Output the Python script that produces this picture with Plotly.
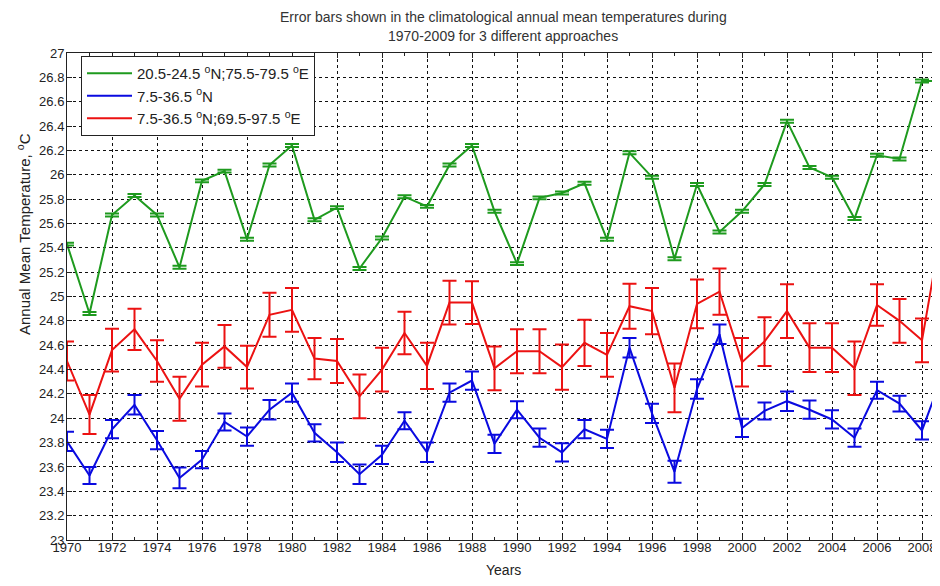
import plotly.graph_objects as go

years = list(range(1970, 2010))

green_vals = [25.43, 24.86, 25.67, 25.83, 25.67, 25.24, 25.95, 26.03, 25.47, 26.08,
              26.24, 25.63, 25.73, 25.23, 25.48, 25.82, 25.74, 26.08, 26.24, 25.70,
              25.27, 25.81, 25.85, 25.93, 25.47, 26.18, 25.98, 25.31, 25.92, 25.53,
              25.70, 25.92, 26.44, 26.06, 25.98, 25.64, 26.16, 26.13, 26.77, 26.77]
green_err = [0.012] * 40

blue_vals = [23.81, 23.53, 23.91, 24.11, 23.82, 23.51, 23.66, 23.97, 23.85, 24.07,
             24.21, 23.88, 23.72, 23.54, 23.70, 23.98, 23.72, 24.21, 24.31, 23.79,
             24.07, 23.84, 23.72, 23.91, 23.83, 24.58, 24.04, 23.56, 24.24, 24.69,
             23.92, 24.06, 24.14, 24.07, 23.99, 23.84, 24.23, 24.12, 23.90, 24.40]
blue_err = [0.08, 0.07, 0.075, 0.08, 0.075, 0.085, 0.07, 0.07, 0.075, 0.08,
            0.075, 0.07, 0.08, 0.08, 0.075, 0.07, 0.08, 0.075, 0.075, 0.075,
            0.07, 0.075, 0.075, 0.075, 0.075, 0.08, 0.08, 0.09, 0.08, 0.08,
            0.075, 0.07, 0.08, 0.075, 0.075, 0.075, 0.07, 0.065, 0.075, 0.075]

red_vals = [24.47, 24.03, 24.56, 24.73, 24.47, 24.16, 24.44, 24.59, 24.42, 24.85,
            24.89, 24.49, 24.47, 24.18, 24.40, 24.70, 24.43, 24.95, 24.95, 24.41,
            24.55, 24.55, 24.42, 24.62, 24.52, 24.92, 24.88, 24.25, 24.94, 25.04,
            24.46, 24.63, 24.88, 24.58, 24.58, 24.41, 24.93, 24.80, 24.64, 25.70]
red_err = [0.16, 0.16, 0.175, 0.17, 0.17, 0.18, 0.18, 0.175, 0.175, 0.18,
           0.18, 0.17, 0.18, 0.18, 0.18, 0.175, 0.19, 0.18, 0.175, 0.18,
           0.18, 0.18, 0.185, 0.19, 0.18, 0.185, 0.19, 0.2, 0.2, 0.19,
           0.2, 0.2, 0.22, 0.2, 0.2, 0.22, 0.17, 0.18, 0.18, 0.18]

series_names = ["20.5-24.5 <sup>o</sup>N;75.5-79.5 <sup>o</sup>E",
                "7.5-36.5 <sup>o</sup>N",
                "7.5-36.5 <sup>o</sup>N;69.5-97.5 <sup>o</sup>E"]
series_colors = ["#1e9a1e", "#0a0ae0", "#ec1212"]

x_tickvals = list(range(1970, 2009, 2))
x_ticktext = [str(v) for v in x_tickvals]
y_tickvals = [round(23 + 0.2 * i, 1) for i in range(21)]
y_ticktext = [("%g" % v) for v in y_tickvals]

title_lines = ["Error bars shown in the climatological annual mean temperatures during",
               "1970-2009 for 3 different approaches"]
x_title = "Years"
y_title = "Annual Mean Temperature, <sup>o</sup>C"

FONT = "Liberation Sans, Arial, sans-serif"
TXT = "#222222"

fig = go.Figure()
for vals, errs, name, col in [(green_vals, green_err, series_names[0], series_colors[0]),
                              (blue_vals, blue_err, series_names[1], series_colors[1]),
                              (red_vals, red_err, series_names[2], series_colors[2])]:
    fig.add_trace(go.Scatter(
        x=years, y=vals, mode="lines", name=name,
        line=dict(color=col, width=2),
        error_y=dict(type="data", array=errs, visible=True, color=col,
                     thickness=2, width=7),
    ))

# page body has an 8px margin: figure coords = screen coords - 8.
# Figure sized so the page does not overflow the 940x586 window.
OFF = 8
W, H = 940 - OFF, 586 - 2 * OFF
PLOT_TOP, PLOT_BOTTOM, PLOT_LEFT, PLOT_RIGHT = 53, 540, 67, 940  # screen px
PH = PLOT_BOTTOM - PLOT_TOP
PW = PLOT_RIGHT - PLOT_LEFT

fig.update_layout(
    width=W, height=H,
    margin=dict(l=PLOT_LEFT - OFF, r=W - (PLOT_RIGHT - OFF),
                t=PLOT_TOP - OFF, b=H - (PLOT_BOTTOM - OFF)),
    paper_bgcolor="white", plot_bgcolor="white",
    font=dict(family=FONT, size=13, color=TXT),
    showlegend=True,
    legend=dict(x=14 / PW, y=1 - 3 / PH, xref="paper", yref="paper",
                xanchor="left", yanchor="top",
                bgcolor="white", bordercolor=TXT, borderwidth=1,
                font=dict(family=FONT, size=15, color=TXT),
                itemwidth=45, tracegroupgap=0),
    xaxis=dict(range=[1970, 1970 + PW / 22.5], automargin=False,
               tickmode="array", tickvals=x_tickvals, ticktext=x_ticktext,
               ticks="inside", ticklen=5, tickcolor=TXT,
               showline=True, linecolor=TXT, linewidth=1, mirror="ticks",
               showgrid=True, gridcolor="#111111", gridwidth=1, griddash="3px,3px",
               zeroline=False, ticklabelstandoff=-5,
               minor=dict(dtick=1, tick0=1970, ticks="inside", ticklen=3,
                          tickcolor=TXT, showgrid=False),
               tickfont=dict(family=FONT, size=13, color=TXT)),
    yaxis=dict(range=[23, 27], automargin=False,
               tickmode="array", tickvals=y_tickvals, ticktext=y_ticktext,
               ticks="inside", ticklen=5, tickcolor=TXT,
               showline=True, linecolor=TXT, linewidth=1,
               showgrid=True, gridcolor="#111111", gridwidth=1, griddash="3px,3px",
               zeroline=False, ticklabelstandoff=-1,
               tickfont=dict(family=FONT, size=13, color=TXT)),
)

for txt, ypx in zip(title_lines, [17, 36]):
    fig.add_annotation(text=txt, xref="paper", yref="paper",
                       x=(503 - PLOT_LEFT) / PW, y=(PLOT_BOTTOM - ypx) / PH,
                       xanchor="center", yanchor="middle", showarrow=False,
                       font=dict(family=FONT, size=14, color="#333333"))

fig.add_annotation(text=x_title, xref="paper", yref="paper",
                   x=(503 - PLOT_LEFT) / PW, y=(PLOT_BOTTOM - 570) / PH,
                   xanchor="center", yanchor="middle", showarrow=False,
                   font=dict(family=FONT, size=14, color=TXT))

fig.add_annotation(text=y_title, textangle=-90,
                   xref="paper", yref="paper", x=(23 - PLOT_LEFT) / PW,
                   y=(PLOT_BOTTOM - 234) / PH,
                   xanchor="center", yanchor="middle", showarrow=False,
                   font=dict(family=FONT, size=15, color=TXT))

fig.write_html("out.html")
